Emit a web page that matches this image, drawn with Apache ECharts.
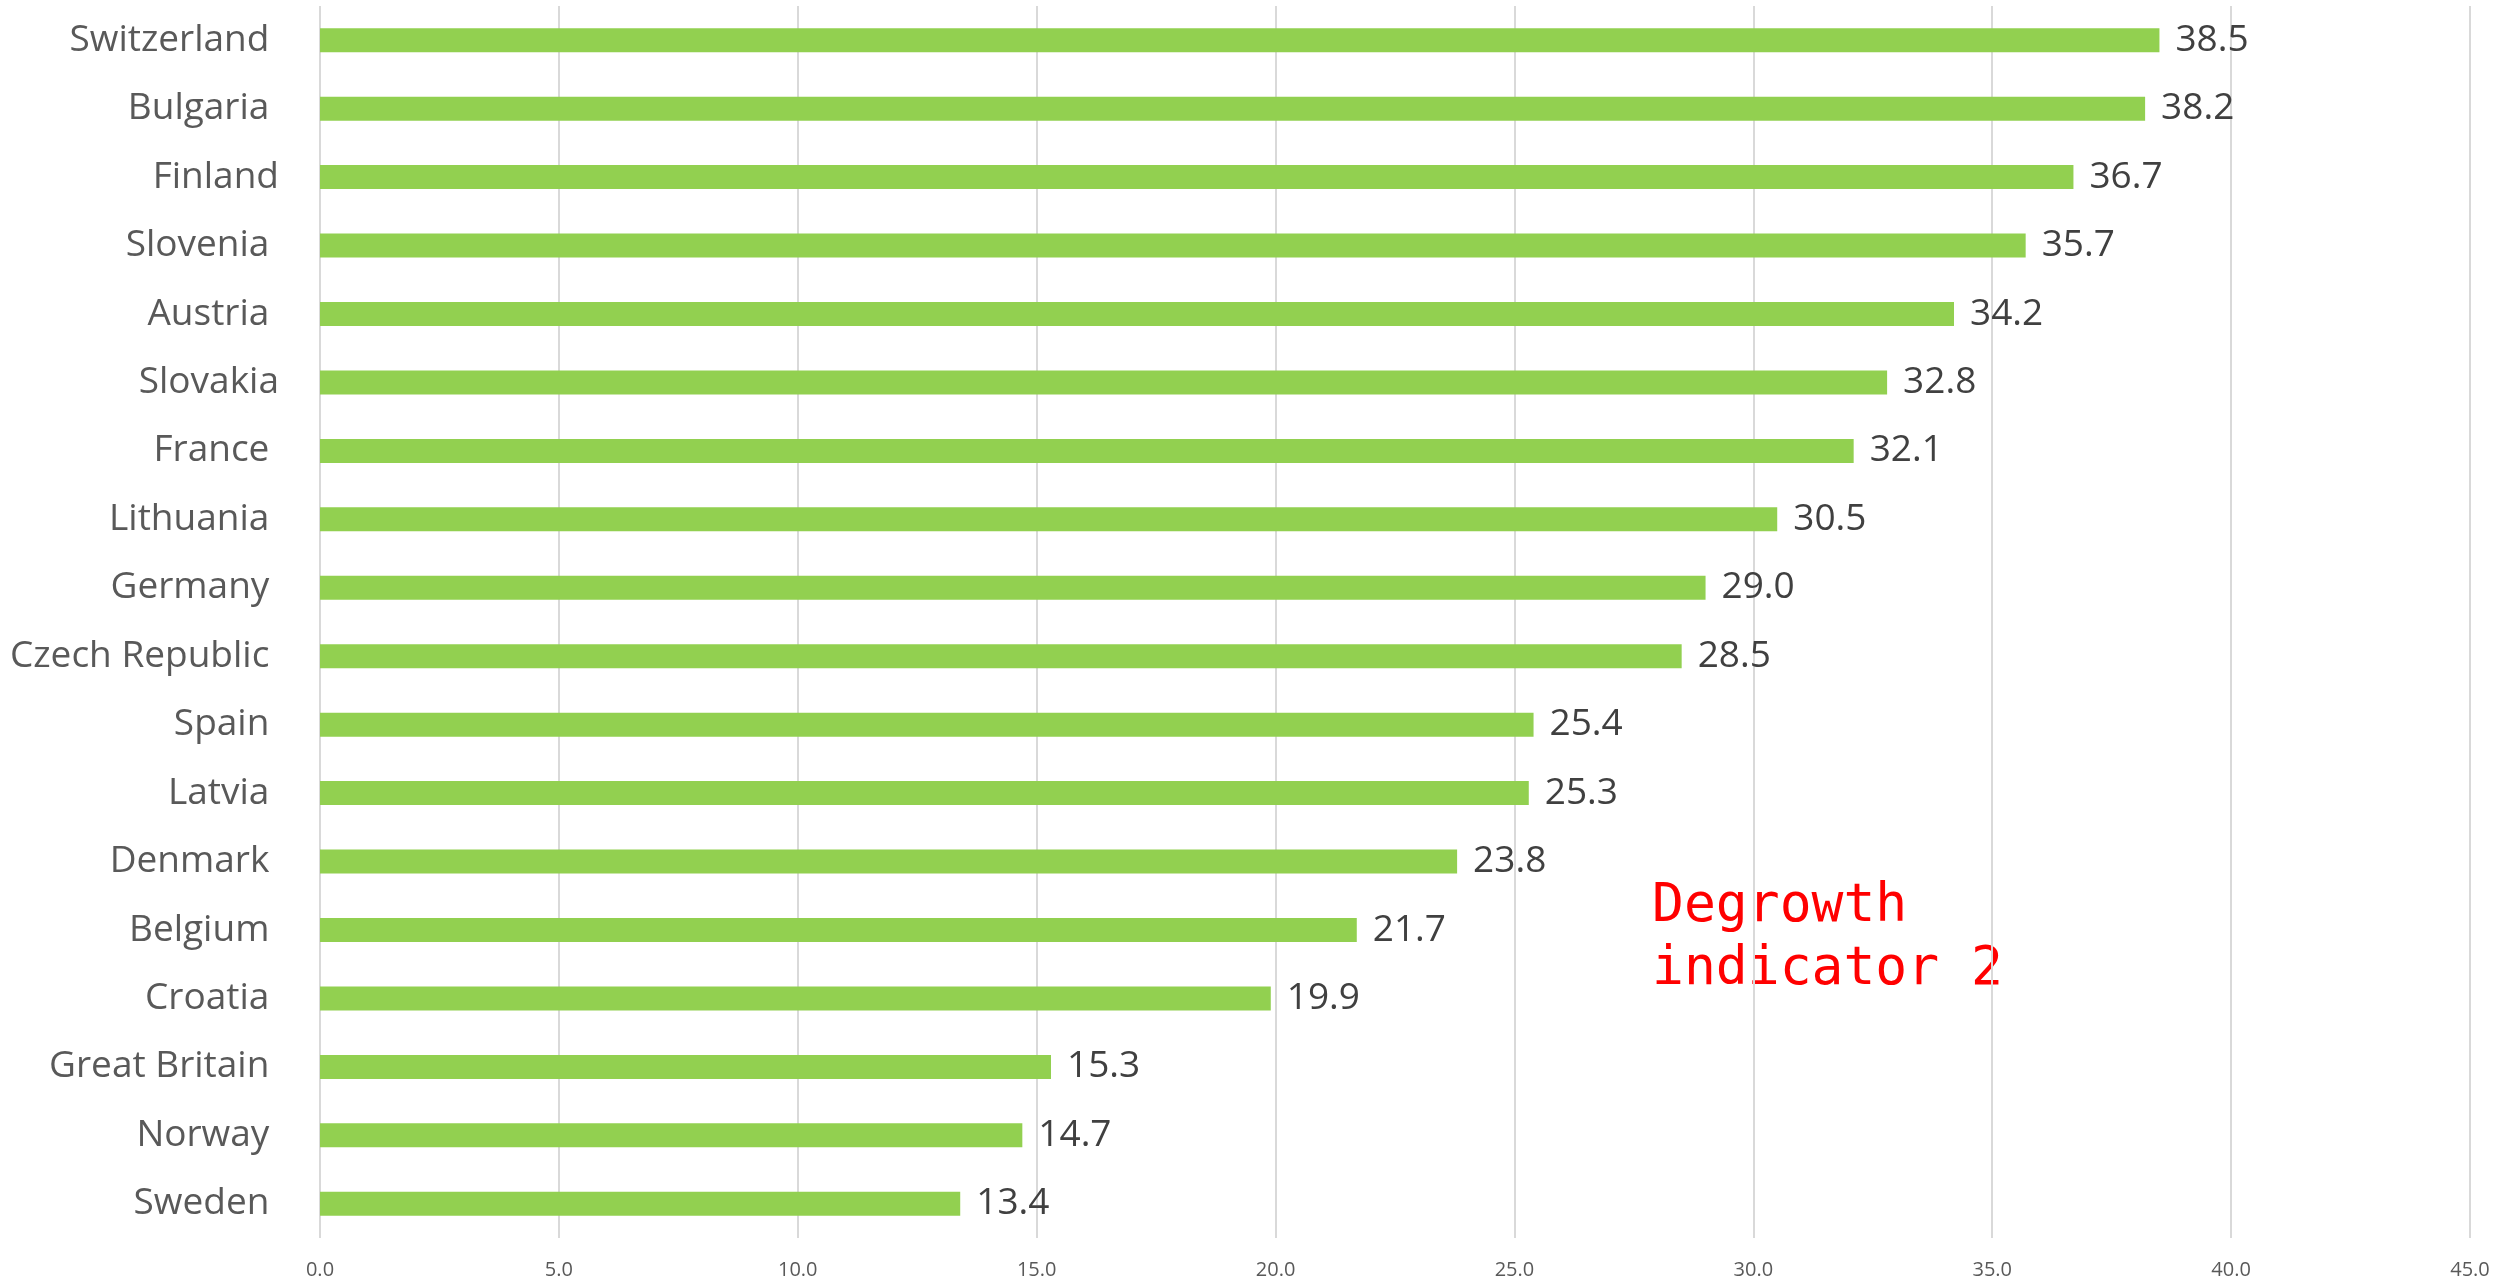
<!DOCTYPE html>
<html>
<head>
<meta charset="utf-8">
<title>Degrowth indicator 2</title>
<script src="https://cdn.jsdelivr.net/npm/echarts@6/dist/echarts.min.js"></script>
<style>
  html, body { margin: 0; padding: 0; background: #ffffff; }
  #chart { width: 2502px; height: 1282px; }
</style>
</head>
<body>
<div id="chart"></div>
<script>
// Countries, bottom to top (the category axis on a horizontal bar chart grows upward)
const countries = [
  'Sweden ', 'Norway ', 'Great Britain ', 'Croatia ', 'Belgium ', 'Denmark ',
  'Latvia ', 'Spain ', 'Czech Republic ', 'Germany ', 'Lithuania ', 'France ',
  'Slovakia', 'Austria ', 'Slovenia ', 'Finland', 'Bulgaria ', 'Switzerland '
];
const indicatorValues = [
  13.4, 14.7, 15.3, 19.9, 21.7, 23.8,
  25.3, 25.4, 28.5, 29.0, 30.5, 32.1,
  32.8, 34.2, 35.7, 36.7, 38.2, 38.5
];
const valueTicks = { min: 0, max: 45, interval: 5 };
const noteLines = ['Degrowth', 'indicator 2'];

const chart = echarts.init(document.getElementById('chart'), null, { renderer: 'canvas' });

chart.setOption({
  animation: false,
  backgroundColor: '#ffffff',
  grid: { left: 320, right: 32, top: 6, bottom: 44, containLabel: false },
  xAxis: {
    type: 'value',
    min: valueTicks.min,
    max: valueTicks.max,
    interval: valueTicks.interval,
    axisLine: { show: false },
    axisTick: { show: false },
    splitLine: { show: true, lineStyle: { color: '#d9d9d9', width: 2 } },
    axisLabel: {
      color: '#595959',
      fontFamily: 'Open Sans',
      fontSize: 20,
      margin: 22,
      formatter: v => v.toFixed(1)
    }
  },
  yAxis: {
    type: 'category',
    data: countries,
    axisLine: { show: false },
    axisTick: { show: false },
    splitLine: { show: false },
    axisLabel: {
      color: '#595959',
      fontFamily: 'Open Sans',
      fontSize: 37,
      margin: 41
    }
  },
  series: [{
    type: 'bar',
    data: indicatorValues,
    barWidth: 24,
    itemStyle: { color: '#92d050' },
    label: {
      show: true,
      position: 'right',
      distance: 16,
      color: '#404040',
      fontFamily: 'Open Sans',
      fontSize: 37,
      formatter: p => p.value.toFixed(1)
    }
  }],
  graphic: [{
    type: 'text',
    left: 1652,
    top: 876,
    style: {
      text: noteLines.join('\n'),
      fill: '#ff0000',
      font: '53px "DejaVu Sans Mono"',
      lineHeight: 63
    }
  }]
});
</script>
</body>
</html>
